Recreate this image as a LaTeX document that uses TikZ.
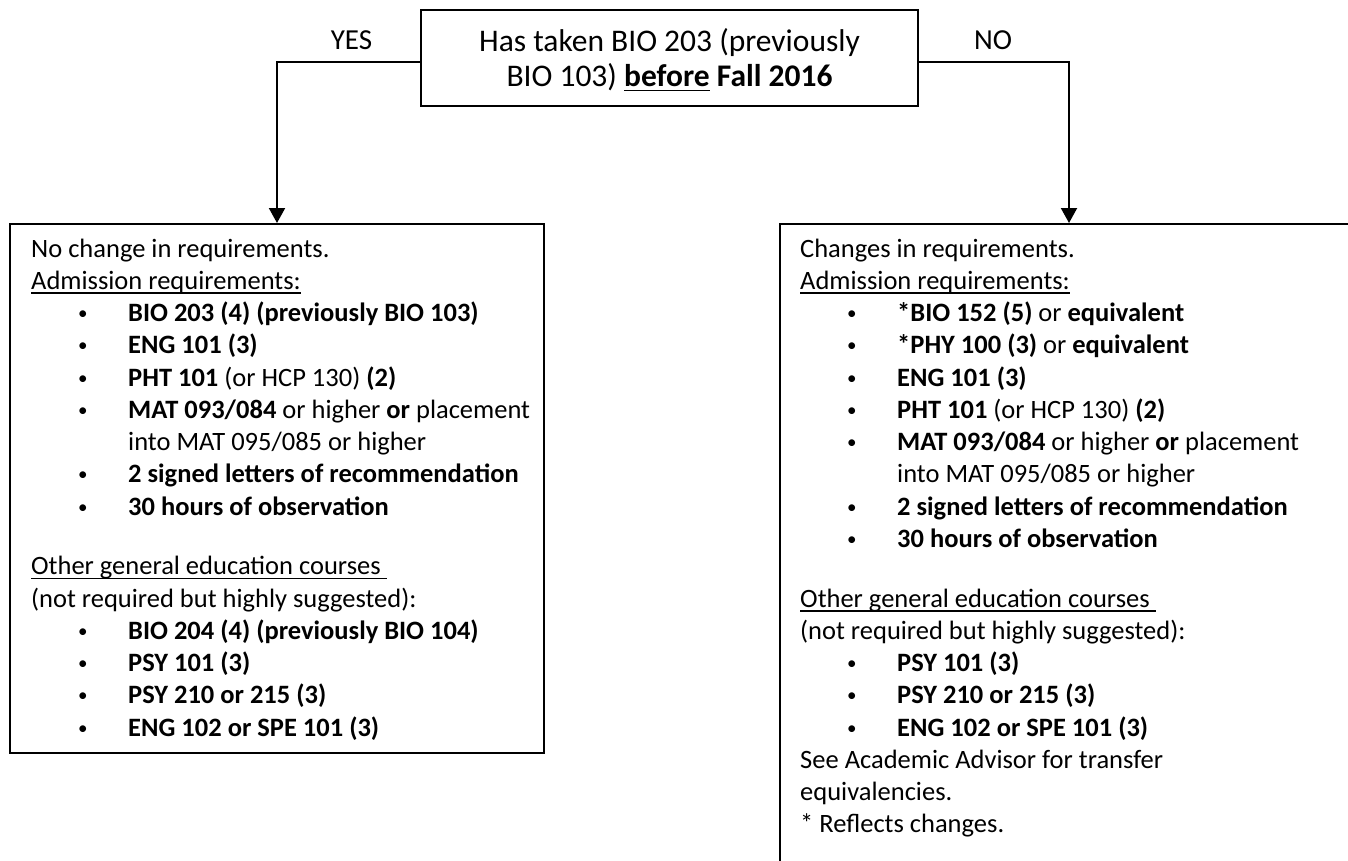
\documentclass[tikz,border=0pt]{standalone}
\usepackage{fontspec}
\setmainfont{Carlito}
\usetikzlibrary{arrows.meta}
\newcommand{\ulin}[1]{\setbox0=\hbox{#1}\rlap{\rule[-4.5pt]{\wd0}{1.6pt}}\box0\relax}
\newcommand{\bul}{\hspace*{47pt}\makebox[50pt][l]{\fontsize{19pt}{19pt}\selectfont\raisebox{2pt}{•}}}
\newcommand{\cont}{\hspace*{97pt}}
\newcommand{\txtsize}{\fontsize{26.5pt}{32.25pt}\selectfont}
\newcommand{\topsize}{\fontsize{31.5pt}{35pt}\selectfont}
\tikzset{
  frame/.style={draw=black, line width=2pt, inner sep=0pt},
  lbl/.style={anchor=base, inner sep=0pt, font=\fontsize{29pt}{34pt}\selectfont},
  body/.style={anchor=base west, inner sep=0pt, font=\txtsize, align=left},
  conn/.style={draw=black, line width=2pt, -{Triangle[length=15pt,width=16pt]}},
}
\begin{document}
\begin{tikzpicture}[x=1pt,y=-1pt]
\clip (0,0) rectangle (1348,861);
\fill[white] (0,0) rectangle (1348,861);
% top decision box
\node[frame, minimum width=497pt, minimum height=96pt] (T) at (669.5,58) {};
\node[anchor=base, inner sep=0pt] (Ttxt) at (669.5,52)
  {\parbox[t]{490pt}{\centering\topsize Has taken BIO 203 (previously\\BIO 103) \ulin{\textbf{before}} \textbf{Fall 2016}}};
\node[lbl] (yes) at (351.5,50) {YES};
\node[lbl] (no) at (993,50) {NO};
% result boxes
\node[frame, anchor=north west, minimum width=534pt, minimum height=529pt] (L) at (9,223) {};
\node[frame, anchor=north west, minimum width=578pt, minimum height=700pt] (R) at (779,223) {};
% connectors
\draw[conn] ([yshift=-4pt]T.west) -| (L.north);
\draw[conn] ([yshift=-4pt]T.east) -| (R.north);
% left text
\node[body] (Ltxt) at (31,257) {\parbox[t]{510pt}{\txtsize
No change in requirements.\\
\ulin{Admission requirements:}\\
\bul\textbf{BIO 203 (4) (previously BIO 103)}\\
\bul\textbf{ENG 101 (3)}\\
\bul\textbf{PHT 101} (or HCP 130) \textbf{(2)}\\
\bul\textbf{MAT 093/084} or higher \textbf{or} placement\\
\cont into MAT 095/085 or higher\\
\bul\textbf{2 signed letters of recommendation}\\
\bul\textbf{30 hours of observation}\\[27.5pt]
\ulin{Other general education courses }\\
(not required but highly suggested):\\
\bul\textbf{BIO 204 (4) (previously BIO 104)}\\
\bul\textbf{PSY 101 (3)}\\
\bul\textbf{PSY 210 or 215 (3)}\\
\bul\textbf{ENG 102 or SPE 101 (3)}}};
% right text
\node[body] (Rtxt) at (800,257) {\parbox[t]{540pt}{\txtsize
Changes in requirements.\\
\ulin{Admission requirements:}\\
\bul\textbf{*BIO 152 (5)} or \textbf{equivalent}\\
\bul\textbf{*PHY 100 (3)} or \textbf{equivalent}\\
\bul\textbf{ENG 101 (3)}\\
\bul\textbf{PHT 101} (or HCP 130) \textbf{(2)}\\
\bul\textbf{MAT 093/084} or higher \textbf{or} placement\\
\cont into MAT 095/085 or higher\\
\bul\textbf{2 signed letters of recommendation}\\
\bul\textbf{30 hours of observation}\\[27.5pt]
\ulin{Other general education courses }\\
(not required but highly suggested):\\
\bul\textbf{PSY 101 (3)}\\
\bul\textbf{PSY 210 or 215 (3)}\\
\bul\textbf{ENG 102 or SPE 101 (3)}\\
See Academic Advisor for transfer\\
equivalencies.\\\relax
* Reflects changes.}};
\end{tikzpicture}
\end{document}
